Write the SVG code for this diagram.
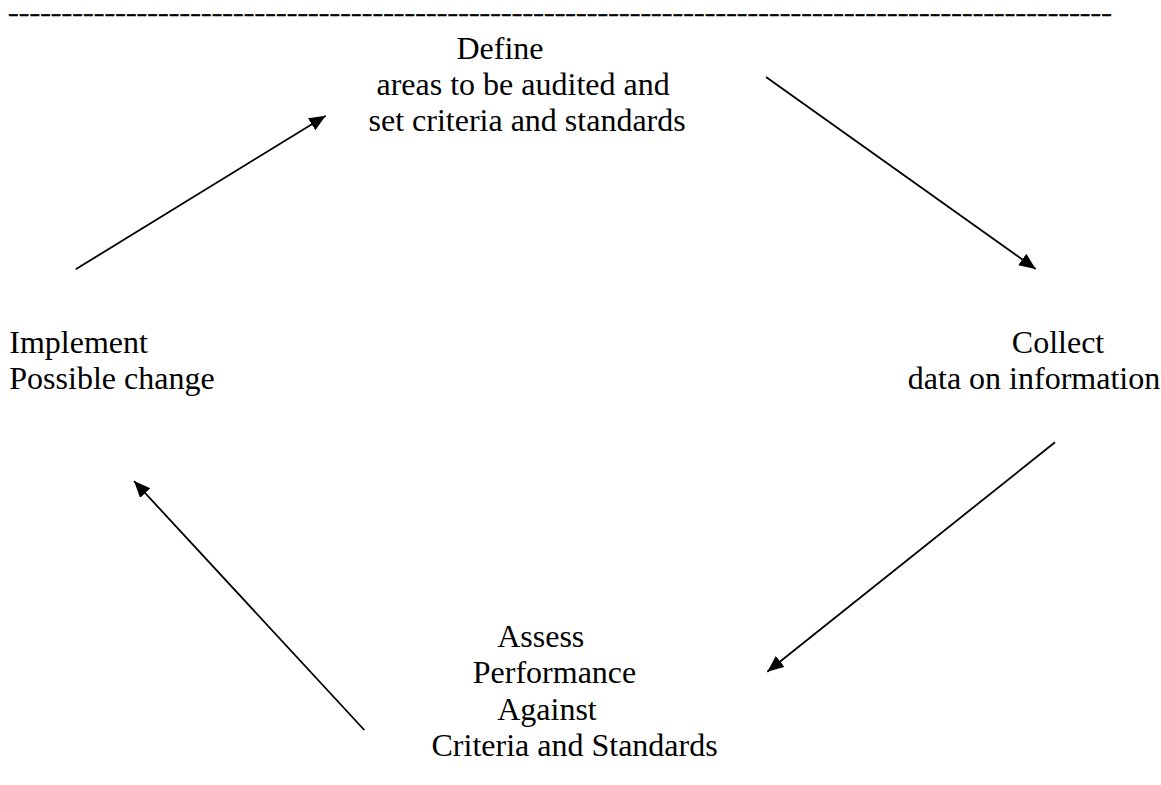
<svg xmlns="http://www.w3.org/2000/svg" width="1161" height="785" viewBox="0 0 1161 785">
<style>
text{font-family:"Liberation Serif","Times New Roman",serif;font-size:32px;fill:#000}
.conn line{stroke:#000;stroke-width:1.8;marker-end:url(#ah)}
</style>
<defs>
<marker id="ah" markerUnits="userSpaceOnUse" markerWidth="18" markerHeight="16" refX="16.5" refY="7" orient="auto">
<path d="M0,0 L16.5,7 L0,14 z" fill="#000"/>
</marker>
</defs>
<rect width="1161" height="785" fill="#fff"/>
<g id="rule"><text x="8" y="0" font-weight="bold" letter-spacing="0.07" stroke="#000" stroke-width="0.6" transform="translate(0,19.6) scale(1,0.65)">-------------------------------------------------------------------------------------------------------</text></g>
<g id="define">
<text x="456.5" y="58.5">Define</text>
<text x="376.5" y="95">areas to be audited and</text>
<text x="368.5" y="131">set criteria and standards</text>
</g>
<g id="collect">
<text x="1011.8" y="352.5">Collect</text>
<text x="907.8" y="388.5">data on information</text>
</g>
<g id="assess">
<text x="497.2" y="646.7">Assess</text>
<text x="472.8" y="683.3">Performance</text>
<text x="497.2" y="720">Against</text>
<text x="431.5" y="756">Criteria and Standards</text>
</g>
<g id="implement">
<text x="9.3" y="353">Implement</text>
<text x="9.3" y="389">Possible change</text>
</g>
<g class="conn" id="connectors">
<line x1="75.7" y1="269.3" x2="325.7" y2="115.7"/>
<line x1="766" y1="77" x2="1035.7" y2="269"/>
<line x1="1055" y1="442.3" x2="767.3" y2="671.7"/>
<line x1="364.3" y1="730" x2="134" y2="481"/>
</g>
</svg>
